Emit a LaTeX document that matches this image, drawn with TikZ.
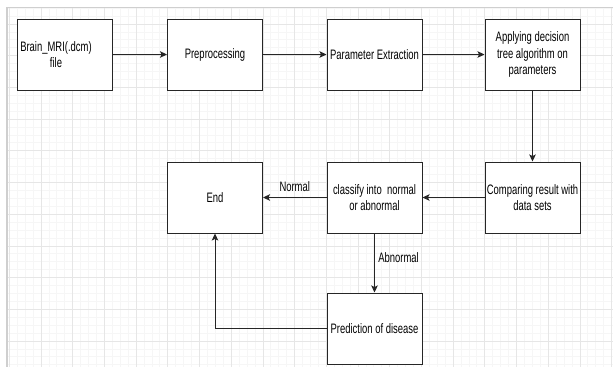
\documentclass[tikz,border=0pt]{standalone}
\usepackage{fontspec}
\setmainfont{Liberation Sans}[FakeStretch=0.69]
\usetikzlibrary{arrows.meta,positioning}
\definecolor{gridminor}{HTML}{F6F6F6}
\definecolor{gridmajor}{HTML}{E6E6E6}
\definecolor{pageedge}{HTML}{CFCFCF}
\tikzset{
  flow-box/.style={draw=black!85, fill=white, line width=1pt, minimum width=95pt, minimum height=71pt,
    inner sep=0pt, align=center, font=\fontsize{13.7}{16.5}\selectfont, text=black},
  flow-text/.style={align=center, font=\fontsize{13.7}{16.5}\selectfont, text=black},
  flow-arrow/.style={-{Stealth[length=7pt,width=6.5pt,inset=1.5pt]}, line width=1pt, draw=black!85},
  flow-label/.style={font=\fontsize{13.7}{16.5}\selectfont, text=black}
}

\begin{document}
\begin{tikzpicture}[x=1pt, y=-1pt]
  \useasboundingbox (0,0) rectangle (613,367);

  % Grid background
  \begin{scope}
    \clip (8,8) rectangle (613,367);
    \foreach \i in {0,...,76} {
      \draw[gridminor, line width=0.8pt] ({9.3+7.925*\i},0) -- ({9.3+7.925*\i},367);
    }
    \foreach \i in {0,...,46} {
      \draw[gridminor, line width=0.8pt] (0,{0.23+7.925*\i}) -- (613,{0.23+7.925*\i});
    }
    \foreach \i in {0,...,19} {
      \draw[gridmajor, line width=0.8pt] ({9.3+31.7*\i},0) -- ({9.3+31.7*\i},367);
    }
    \foreach \i in {0,...,12} {
      \draw[gridmajor, line width=0.8pt] (0,{-7.7+31.7*\i}) -- (613,{-7.7+31.7*\i});
    }
  \end{scope}
  \draw[pageedge, line width=1pt] (7,7) -- (613,7);
  \draw[pageedge, line width=2pt] (7,7) -- (7,367);

  % Top row
  \node[flow-box, label={[flow-text, xshift=-8.5pt]center:{Brain\_MRI(.dcm)\\file}}] (mri) at (64.5,54.5) {};
  \node[flow-box] (prep) at (215,54.5) {Preprocessing};
  \node[flow-box] (param) at (374.5,54.5) {Parameter Extraction};
  \node[flow-box] (tree) at (532.5,54.5) {Applying decision\\tree algorithm on\\parameters};

  % Middle row
  \node[flow-box] (finish) at (215,197.5) {End};
  \node[flow-box] (classify) at (374.5,197.5) {classify into\ \ normal\\or abnormal};
  \node[flow-box] (compare) at (532.5,197.5) {Comparing result with\\data sets};

  % Bottom
  \node[flow-box] (predict) at (374.5,328.5) {Prediction of disease};

  % Connectors
  \draw[flow-arrow] (mri) -- (prep);
  \draw[flow-arrow] (prep) -- (param);
  \draw[flow-arrow] (param) -- (tree);
  \draw[flow-arrow] (tree) -- (compare);
  \draw[flow-arrow] (compare) -- (classify);
  \draw[flow-arrow] (classify) -- node[flow-label, above, yshift=2.5pt] {Normal} (finish);
  \draw[flow-arrow] (classify) -- node[flow-label, right, yshift=5.5pt] {Abnormal} (predict);
  \draw[flow-arrow] (predict.west) -| (finish.south);
\end{tikzpicture}
\end{document}
